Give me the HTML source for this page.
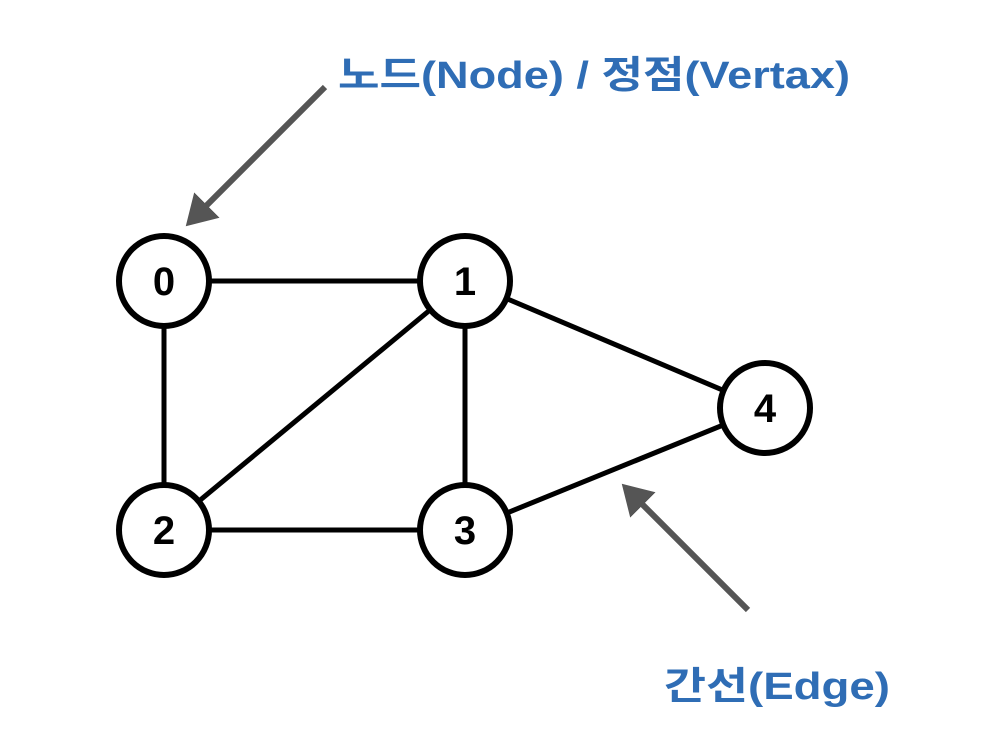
<!DOCTYPE html>
<html><head><style>
html,body{margin:0;padding:0;background:#fff;width:1000px;height:750px;overflow:hidden}
</style></head><body>
<svg width="1000" height="750" xmlns="http://www.w3.org/2000/svg">
<defs><marker id="a" markerWidth="6" markerHeight="6" refX="4" refY="3" orient="auto" markerUnits="strokeWidth">
<path d="M0,0 L5,3 L0,6 Z" fill="#555"/></marker></defs>
<g stroke="#000" stroke-width="5" fill="none">
<line x1="164" y1="281" x2="465" y2="281"/>
<line x1="164" y1="281" x2="164" y2="530"/>
<line x1="164" y1="530" x2="465" y2="530"/>
<line x1="465" y1="281" x2="465" y2="530"/>
<line x1="164" y1="530" x2="465" y2="281"/>
<line x1="465" y1="281" x2="765" y2="408"/>
<line x1="465" y1="530" x2="765" y2="408"/>
</g>
<g stroke="#000" stroke-width="6" fill="#fff">
<circle cx="164" cy="281" r="45"/>
<circle cx="465" cy="281" r="45"/>
<circle cx="164" cy="530" r="45"/>
<circle cx="465" cy="530" r="45"/>
<circle cx="765" cy="408" r="45"/>
</g>
<g font-family="Liberation Sans, sans-serif" font-weight="bold" font-size="40" text-anchor="middle" fill="#000">
<text x="164" y="295">0</text><text x="465" y="295">1</text><text x="164" y="544">2</text><text x="465" y="544">3</text><text x="765" y="422">4</text>
</g>
<g stroke="#555" stroke-width="6">
<line x1="325" y1="87" x2="190" y2="222" marker-end="url(#a)"/>
<line x1="748" y1="610" x2="626" y2="488" marker-end="url(#a)"/>
</g>
<g font-family="Liberation Sans, 'Noto Sans CJK KR', sans-serif" font-weight="bold" font-size="38" fill="#2f6db5">
<text x="338" y="88" textLength="512" lengthAdjust="spacingAndGlyphs">노드(Node) / 정점(Vertax)</text>
<text x="664" y="699" textLength="226" lengthAdjust="spacingAndGlyphs">간선(Edge)</text>
</g>
</svg>
</body></html>
